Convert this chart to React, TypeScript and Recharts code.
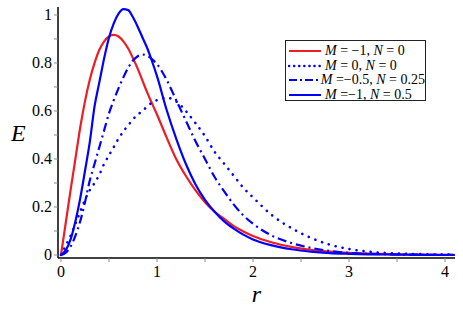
import React from 'react';
import { LineChart, Line, XAxis, YAxis } from 'recharts';

const rValues = [0, 0.05, 0.1, 0.15, 0.2, 0.25, 0.3, 0.35, 0.4, 0.45, 0.5, 0.55, 0.6, 0.65, 0.7, 0.75, 0.8, 0.85, 0.9, 0.95, 1.0, 1.1, 1.2, 1.3, 1.4, 1.5, 1.6, 1.7, 1.8, 1.9, 2.0, 2.2, 2.4, 2.6, 2.8, 3.0, 3.2, 3.4, 3.6, 3.8, 4.1];

// M = -1, N = 0
const eM1N0 = [0, 0.135, 0.27, 0.4, 0.53, 0.64, 0.73, 0.8, 0.855, 0.89, 0.91, 0.917, 0.91, 0.89, 0.86, 0.82, 0.775, 0.725, 0.675, 0.63, 0.585, 0.49, 0.4, 0.33, 0.27, 0.22, 0.18, 0.15, 0.12, 0.098, 0.079, 0.052, 0.034, 0.022, 0.014, 0.009, 0.006, 0.004, 0.002, 0.001, 0.0005];
// M = 0, N = 0
const eM0N0 = [0, 0.04, 0.08, 0.13, 0.18, 0.23, 0.27, 0.3, 0.335, 0.38, 0.415, 0.45, 0.485, 0.515, 0.54, 0.565, 0.585, 0.6, 0.62, 0.635, 0.645, 0.655, 0.64, 0.6, 0.55, 0.495, 0.43, 0.38, 0.33, 0.28, 0.24, 0.165, 0.112, 0.072, 0.043, 0.025, 0.014, 0.008, 0.005, 0.003, 0.001];
// M = -0.5, N = 0.25
const eM05N025 = [0, 0.01, 0.035, 0.08, 0.14, 0.22, 0.31, 0.38, 0.45, 0.52, 0.59, 0.645, 0.695, 0.74, 0.78, 0.81, 0.828, 0.835, 0.83, 0.815, 0.795, 0.73, 0.645, 0.56, 0.475, 0.4, 0.325, 0.265, 0.21, 0.165, 0.13, 0.08, 0.05, 0.03, 0.017, 0.009, 0.005, 0.003, 0.0015, 0.001, 0];
// M = -1, N = 0.5
const eM1N05 = [0, 0.02, 0.065, 0.14, 0.235, 0.35, 0.47, 0.62, 0.72, 0.82, 0.905, 0.965, 1.005, 1.024, 1.02, 0.99, 0.95, 0.905, 0.86, 0.805, 0.745, 0.605, 0.485, 0.38, 0.295, 0.23, 0.18, 0.14, 0.11, 0.085, 0.065, 0.04, 0.024, 0.014, 0.008, 0.005, 0.003, 0.002, 0.001, 0.0005, 0];

const xTicks = [0, 0.5, 1, 1.5, 2, 2.5, 3, 3.5, 4];
const yTicks = [0, 0.1, 0.2, 0.3, 0.4, 0.5, 0.6, 0.7, 0.8, 0.9, 1];

const series = [
  { key: 'a', label: ['M', ' = \u22121, ', 'N', ' = 0'], values: eM1N0, color: '#ee1c24', style: 'solid' },
  { key: 'b', label: ['M', ' = 0, ', 'N', ' = 0'], values: eM0N0, color: '#0000ff', style: 'dot' },
  { key: 'c', label: ['M', ' =\u22120.5, ', 'N', ' = 0.25'], values: eM05N025, color: '#0000ff', style: 'dashdot' },
  { key: 'd', label: ['M', ' =\u22121, ', 'N', ' = 0.5'], values: eM1N05, color: '#0000ff', style: 'solid' },
];

const dashFor = (style: string) => (style === 'dot' ? '0.1 7' : style === 'dashdot' ? '9 4 2 4' : undefined);

const data = rValues.map((r, i) => {
  const row: Record<string, number> = { r };
  series.forEach(s => { row[s.key] = s.values[i]; });
  return row;
});

const font = "'Times New Roman', 'Liberation Serif', 'DejaVu Serif', serif";

const XTick = (props: any) => {
  const { x, y, payload } = props;
  const v = payload.value;
  if (!Number.isInteger(v)) return null;
  return (
    <text x={x} y={y + 13} textAnchor="middle" style={{ fontFamily: font, fontSize: 16, fill: '#000' }}>{v}</text>
  );
};

const YTick = (props: any) => {
  const { x, y, payload } = props;
  const t = Math.round(payload.value * 10);
  if (t % 2 !== 0) return null;
  return (
    <text x={x} y={y + 5} textAnchor="end" style={{ fontFamily: font, fontSize: 16, fill: '#000' }}>{String(t / 10)}</text>
  );
};

function LegendBox() {
  return (
    <div style={{ position: 'absolute', left: 285, top: 40, width: 141, height: 61, border: '1px solid #222', background: '#fff', fontFamily: font, fontSize: 14, paddingTop: 3, boxSizing: 'border-box' }}>
      {series.map(s => (
        <div key={s.key} style={{ display: 'flex', alignItems: 'center', height: 14.5, whiteSpace: 'nowrap' }}>
          <svg width={36} height={10} style={{ marginLeft: 2 }}>
            <line x1={1} y1={5} x2={33} y2={5} stroke={s.color} strokeWidth={s.style === 'dot' ? 2.5 : 2} strokeLinecap={s.style === 'dot' ? 'round' : 'butt'} strokeDasharray={s.style === 'dot' ? '0.1 5' : s.style === 'dashdot' ? '8 3 2 3' : undefined} />
          </svg>
          <span style={{ marginLeft: 1 }}>
            <i>{s.label[0]}</i>{s.label[1]}<i>{s.label[2]}</i>{s.label[3]}
          </span>
        </div>
      ))}
    </div>
  );
}

export default function App() {
  return (
    <div style={{ position: 'absolute', left: 0, top: 0, width: 463, height: 312, background: '#fff', fontFamily: font }}>
      <LineChart width={463} height={312} data={data} margin={{ top: 7, right: 8, left: 0, bottom: 0 }} style={{ fontFamily: font }}>
        <XAxis
          dataKey="r"
          type="number"
          domain={[-0.031, 4.104]}
          allowDataOverflow
          ticks={xTicks}
          height={54}
          tickSize={4}
          tickMargin={2}
          tickLine={{ stroke: '#888' }}
          axisLine={{ stroke: '#000', strokeWidth: 1.5 }}
          tick={<XTick />}
          label={{ value: 'r', position: 'insideBottom', offset: 10, fill: '#000', fontSize: 24, fontStyle: 'italic', style: { fontFamily: font } }}
        />
        <XAxis xAxisId="top" orientation="top" dataKey="r" type="number" domain={[-0.031, 4.104]} allowDataOverflow height={0} tick={false} tickLine={false} axisLine={{ stroke: '#000', strokeWidth: 1.5 }} />
        <YAxis
          type="number"
          domain={[-0.0125, 1.033]}
          allowDataOverflow
          ticks={yTicks}
          width={58}
          tickSize={4}
          tickMargin={2}
          tickLine={{ stroke: '#888' }}
          axisLine={{ stroke: '#000', strokeWidth: 1.5 }}
          tick={<YTick />}
          label={{ value: 'E', position: 'insideLeft', offset: 11, fill: '#000', fontSize: 24, fontStyle: 'italic', style: { fontFamily: font } }}
        />
        <YAxis yAxisId="right" orientation="right" type="number" domain={[-0.0125, 1.033]} allowDataOverflow width={0} tick={false} tickLine={false} axisLine={{ stroke: '#000', strokeWidth: 1.5 }} />
        {series.map(s => (
          <Line
            key={s.key}
            dataKey={s.key}
            type="monotone"
            stroke={s.color}
            strokeWidth={s.style === 'dot' ? 2.6 : 2.2}
            strokeDasharray={dashFor(s.style)}
            strokeLinecap={s.style === 'dot' ? 'round' : 'butt'}
            dot={false}
            isAnimationActive={false}
          />
        ))}
      </LineChart>
      <LegendBox />
    </div>
  );
}
